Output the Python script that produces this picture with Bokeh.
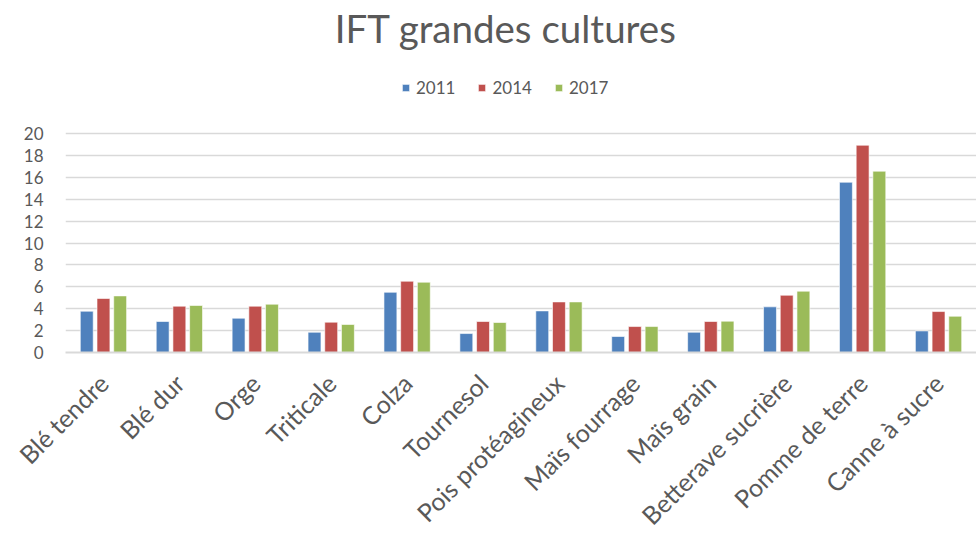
import math
from bokeh.plotting import figure
from bokeh.models import ColumnDataSource, FactorRange, Legend, LegendItem
from bokeh.core.properties import value
from bokeh.transform import dodge
from bokeh.embed import file_html
from bokeh.resources import INLINE

categories = ["Blé tendre", "Blé dur", "Orge", "Triticale", "Colza", "Tournesol",
              "Pois protéagineux", "Maïs fourrage", "Maïs grain", "Betterave sucrière",
              "Pomme de terre", "Canne à sucre"]
v2011 = [3.77, 2.83, 3.13, 1.85, 5.5, 1.73, 3.8, 1.46, 1.85, 4.17, 15.55, 1.97]
v2014 = [4.93, 4.23, 4.23, 2.77, 6.51, 2.83, 4.62, 2.37, 2.83, 5.23, 18.93, 3.74]
v2017 = [5.17, 4.29, 4.41, 2.56, 6.42, 2.74, 4.62, 2.37, 2.86, 5.6, 16.56, 3.31]
series = ["2011", "2014", "2017"]
colors = ["#4f81bd", "#c0504d", "#9bbb59"]
yticks = [0, 2, 4, 6, 8, 10, 12, 14, 16, 18, 20]
title_text = "IFT grandes cultures"

src = ColumnDataSource(dict(cat=categories, s2011=v2011, s2014=v2014, s2017=v2017))

FONT = "Lato"
GREY = "#595959"

p = figure(x_range=FactorRange(*categories), y_range=(0, 32.15),
           frame_width=911, frame_height=352, output_backend="svg", toolbar_location=None,
           min_border_left=65, min_border_right=0, min_border_top=0, min_border_bottom=0)

renderers = []
for off, key, col in zip([-0.22, 0.0, 0.22], ["s2011", "s2014", "s2017"], colors):
    r = p.vbar(x=dodge("cat", off, range=p.x_range), top=key, width=0.17, source=src,
               fill_color=col, line_color="white", line_width=0.6)
    renderers.append(r)

# title drawn as text in the empty upper part of the frame
tsrc = ColumnDataSource(dict(x=["Tournesol"], y=[29.68], t=[title_text]))
p.text(x=dodge("x", 0.3, range=p.x_range), y="y", text="t", source=tsrc,
       text_align="center", text_baseline="middle", text_font=value(FONT),
       text_font_size="38.5px", text_color=GREY)

legend = Legend(items=[LegendItem(label=s, renderers=[r]) for s, r in zip(series, renderers)],
                orientation="horizontal", location=(336, 254),
                label_text_font=FONT, label_text_font_size="17px", label_text_color=GREY,
                glyph_width=9, glyph_height=9, spacing=22, label_standoff=6,
                border_line_color=None, background_fill_alpha=0, margin=0, padding=4)
p.add_layout(legend, "center")

p.yaxis.ticker = yticks
p.yaxis.axis_line_color = None
p.yaxis.major_tick_line_color = None
p.yaxis.minor_tick_line_color = None
p.yaxis.major_label_text_font = FONT
p.yaxis.major_label_text_font_size = "17px"
p.yaxis.major_label_text_color = GREY
p.yaxis.major_label_standoff = 16

p.xaxis.axis_line_color = "#d9d9d9"
p.xaxis.axis_line_width = 2
p.xaxis.major_tick_line_color = None
p.xaxis.minor_tick_line_color = None
p.xaxis.major_label_orientation = math.pi / 4
p.xaxis.major_label_text_font = FONT
p.xaxis.major_label_text_font_size = "25px"
p.xaxis.major_label_text_color = GREY
p.xaxis.major_label_standoff = 20

p.xgrid.grid_line_color = None
p.ygrid.grid_line_color = "#d9d9d9"
p.ygrid.grid_line_width = 1.5
p.outline_line_color = None

open("out.html", "w").write(file_html(p, INLINE))
